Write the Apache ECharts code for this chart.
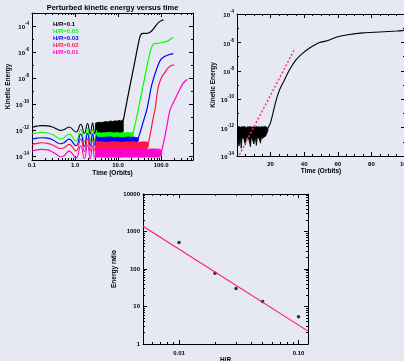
<!DOCTYPE html>
<html>
<head>
<meta charset="utf-8">
<script src="https://cdn.jsdelivr.net/npm/echarts/dist/echarts.min.js"></script>
<style>
  html, body { margin: 0; padding: 0; background: #e6e9f3; }
  #chart { width: 404px; height: 361px; }
</style>
</head>
<body>
<div id="chart"></div>
<script>
// ---------- Panel 1: perturbed kinetic energy versus time, five disc thicknesses ----------
const runLabels = ['H/R=0.1', 'H/R=0.05', 'H/R=0.03', 'H/R=0.02', 'H/R=0.01'];
const runColors = ['#000000', '#00ff00', '#0000ff', '#ff1446', '#ff00cc'];

// early epicyclic oscillation (orbits)
const oscTime = [0.10, 0.13, 0.17, 0.23, 0.30, 0.38, 0.45, 0.54, 0.63, 0.72, 1.05, 1.35, 1.65, 1.95, 2.25, 2.55, 2.85, 3.15];
const oscH10 = [1.6e-12, 2.0e-12, 2.2e-12, 2.1e-12, 1.7e-12, 1.2e-12, 9.5e-13, 1.05e-12, 1.4e-12, 1.7e-12, 7.1e-13, 2.8e-12, 5.6e-13, 3.2e-12, 5.0e-13, 3.5e-12, 5.6e-13, 3.5e-12];
const oscH05 = [5.0e-13, 6.0e-13, 6.6e-13, 6.0e-13, 4.5e-13, 2.8e-13, 2.1e-13, 2.4e-13, 3.8e-13, 5.0e-13, 1.4e-13, 1.1e-12, 1.26e-13, 1.26e-12, 1.4e-13, 1.1e-12, 1.6e-13, 1.0e-12];
const oscH03 = [2.0e-13, 2.4e-13, 2.6e-13, 2.4e-13, 1.8e-13, 1.1e-13, 8.9e-14, 1.0e-13, 1.5e-13, 2.0e-13, 6.3e-14, 5.0e-13, 5.6e-14, 5.6e-13, 6.3e-14, 5.0e-13, 7.1e-14, 4.0e-13];
const oscH02 = [7.9e-14, 9.5e-14, 1.05e-13, 9.5e-14, 7.1e-14, 4.8e-14, 3.8e-14, 4.2e-14, 6.0e-14, 7.9e-14, 2.5e-14, 2.0e-13, 2.2e-14, 2.2e-13, 2.5e-14, 2.0e-13, 2.8e-14, 1.6e-13];
const oscH01 = [2.5e-14, 3.0e-14, 3.3e-14, 3.0e-14, 2.1e-14, 1.26e-14, 8.9e-15, 1.0e-14, 1.66e-14, 2.4e-14, 7.1e-15, 6.3e-14, 6.3e-15, 7.1e-14, 6.3e-15, 6.3e-14, 7.1e-15, 5.0e-14];

// fast oscillation phase: upper and lower envelopes
const bandTimeH10 = [3.0, 3.6, 4.3, 5.0, 5.8, 6.6, 7.5, 8.5, 9.5, 10.5, 11.5, 12.5, 13.2];
const bandHiH10 = [3.5e-12, 4.0e-12, 3.8e-12, 4.5e-12, 4.2e-12, 5.0e-12, 4.5e-12, 5.2e-12, 4.8e-12, 5.6e-12, 5.0e-12, 6.0e-12, 5.5e-12];
const bandLoH10 = [5.6e-13, 6.3e-13, 5.0e-13, 6.6e-13, 4.5e-13, 6.3e-13, 5.2e-13, 7.1e-13, 4.8e-13, 6.6e-13, 5.6e-13, 7.1e-13, 7.9e-13];

const bandTimeH05 = [3.0, 4.0, 5.2, 6.5, 8.0, 9.5, 11, 13, 15, 17, 19, 21, 22.6];
const bandHiH05 = [6.6e-13, 6.0e-13, 6.3e-13, 6.8e-13, 6.0e-13, 6.5e-13, 5.9e-13, 6.6e-13, 6.2e-13, 6.8e-13, 6.0e-13, 6.6e-13, 7.1e-13];
const bandLoH05 = [2.2e-13, 2.4e-13, 2.1e-13, 2.3e-13, 2.2e-13, 2.0e-13, 2.3e-13, 2.2e-13, 2.4e-13, 2.1e-13, 2.3e-13, 2.2e-13, 4.0e-13];

const bandTimeH03 = [3.0, 4.0, 5.2, 6.5, 8.0, 10, 12, 14.5, 17, 20, 23, 26.5, 29.8];
const bandHiH03 = [2.9e-13, 2.7e-13, 2.8e-13, 3.0e-13, 2.7e-13, 2.9e-13, 2.6e-13, 2.8e-13, 3.0e-13, 2.7e-13, 2.9e-13, 2.7e-13, 2.6e-13];
const bandLoH03 = [1.0e-13, 9.5e-14, 1.05e-13, 9.8e-14, 1.0e-13, 9.3e-14, 1.0e-13, 9.6e-14, 1.02e-13, 9.4e-14, 1.0e-13, 9.7e-14, 1.6e-13];

const bandTimeH02 = [3.0, 4.0, 5.2, 6.5, 8.0, 10, 12.5, 15, 18, 22, 27, 33, 40, 46, 50.8];
const bandHiH02 = [1.2e-13, 1.25e-13, 1.15e-13, 1.2e-13, 1.3e-13, 1.2e-13, 1.15e-13, 1.25e-13, 1.2e-13, 1.3e-13, 1.15e-13, 1.2e-13, 1.25e-13, 1.2e-13, 1.1e-13];
const bandLoH02 = [3.3e-14, 3.1e-14, 3.4e-14, 3.2e-14, 3.3e-14, 3.0e-14, 3.4e-14, 3.2e-14, 3.3e-14, 3.1e-14, 3.4e-14, 3.2e-14, 3.3e-14, 3.1e-14, 6.0e-14];

const bandTimeH01 = [3.0, 4.0, 5.2, 6.5, 8.0, 10, 12.5, 15, 18, 22, 27, 33, 40, 48, 57, 67, 78, 90, 103];
const bandHiH01 = [3.5e-14, 3.4e-14, 3.6e-14, 3.5e-14, 3.3e-14, 3.6e-14, 3.5e-14, 3.4e-14, 3.6e-14, 3.5e-14, 3.3e-14, 3.5e-14, 3.6e-14, 3.4e-14, 3.5e-14, 3.6e-14, 3.4e-14, 3.5e-14, 2.6e-14];
const bandLoH01 = [8.3e-15, 8.5e-15, 8.1e-15, 8.3e-15, 8.4e-15, 8.2e-15, 8.3e-15, 8.5e-15, 8.1e-15, 8.3e-15, 8.4e-15, 8.2e-15, 8.3e-15, 8.5e-15, 8.1e-15, 8.3e-15, 8.4e-15, 8.2e-15, 1.2e-14];

// instability growth and saturation
const growTimeH10 = [13.2, 16.2, 20, 24.8, 29, 33, 37.6, 47, 55, 65, 76, 89, 105, 113];
const growH10 = [5.5e-12, 1.9e-10, 6.6e-9, 2.3e-7, 3.3e-6, 1.9e-5, 2.75e-5, 2.75e-5, 3.3e-5, 5.6e-5, 1.12e-4, 2.0e-4, 2.75e-4, 3.0e-4];
const growTimeH05 = [22.6, 27.6, 34.3, 42.5, 50, 58.6, 68.6, 85, 110, 145, 170, 193];
const growH05 = [7.1e-13, 1.35e-11, 4.7e-10, 1.6e-8, 2.3e-7, 1.9e-6, 4.3e-6, 4.7e-6, 5.6e-6, 7.2e-6, 1.05e-5, 1.35e-5];
const growTimeH03 = [29.8, 34.4, 40.4, 46.5, 53, 60.1, 78.9, 98, 123, 160, 192];
const growH03 = [2.6e-13, 1.26e-12, 7.6e-12, 3.7e-11, 3.16e-10, 2.75e-9, 5.2e-8, 2.6e-7, 4.7e-7, 6.6e-7, 7.6e-7];
const growTimeH02 = [50.8, 58, 65, 72, 85.6, 103, 124, 148, 178, 202];
const growH02 = [1.0e-13, 9.5e-13, 7.9e-12, 3.7e-11, 2.0e-9, 1.2e-8, 2.9e-8, 6.3e-8, 9.5e-8, 1.0e-7];
const growTimeH01 = [103, 117, 137, 162, 213, 253, 303, 363, 410];
const growH01 = [2.5e-14, 1.6e-13, 2.3e-12, 3.7e-11, 2.6e-10, 8.5e-10, 2.75e-9, 5.9e-9, 7.6e-9];

// ---------- Panel 2: single run on a linear time axis ----------
const trNoiseTime = [0.5, 1.2, 2.0, 2.5, 3.0, 4.0, 5.0, 5.5, 6.0, 7.0, 8.0, 8.5, 9.0, 10.0, 11.0, 11.5, 12.0, 13.0, 14.0, 14.5, 15.0, 16.0, 17.0, 18.4];
const trNoiseHi = [1.1e-12, 1.2e-12, 1.05e-12, 1.15e-12, 1.1e-12, 1.2e-12, 1.1e-12, 1.0e-12, 1.15e-12, 1.1e-12, 1.2e-12, 1.1e-12, 1.05e-12, 1.15e-12, 1.1e-12, 1.2e-12, 1.1e-12, 1.15e-12, 1.05e-12, 1.2e-12, 1.1e-12, 1.15e-12, 1.2e-12, 9.0e-13];
const trNoiseLo = [2.0e-13, 5.0e-14, 1.8e-13, 3.5e-14, 1.9e-13, 1.7e-13, 6.0e-14, 1.8e-13, 2.0e-13, 1.6e-13, 4.5e-14, 1.9e-13, 1.8e-13, 7.0e-14, 2.0e-13, 5.5e-14, 1.8e-13, 1.9e-13, 8.0e-14, 2.0e-13, 1.7e-13, 2.1e-13, 2.5e-13, 6.0e-13];
const trGrowTime = [18.4, 19.8, 21.4, 23.3, 25.3, 28.2, 31.2, 35.1, 39, 43.9, 48.8, 53.7, 60, 66, 75, 85, 95, 100];
const trGrowE = [8.9e-13, 2.0e-12, 1.02e-11, 8.7e-11, 4.5e-10, 2.2e-9, 1.15e-8, 5.8e-8, 1.7e-7, 4.5e-7, 9.5e-7, 1.3e-6, 2.5e-6, 3.5e-6, 4.7e-6, 5.4e-6, 6.3e-6, 7.1e-6];
const trRateTime = [1.4, 34];
const trRateE = [1.2e-14, 2.9e-7];

// ---------- Panel 3: energy ratio against H/R ----------
const hrValues = [0.01, 0.02, 0.03, 0.05, 0.10];
const energyRatio = [510, 77, 30, 13.6, 5.3];
const fitHR = [0.005, 0.12];
const fitRatio = [1380, 2.2];

// ---------- helpers ----------
const FONT = '"Liberation Sans", Arial, sans-serif';
const pairs = (xs, ys) => xs.map((x, i) => [x, ys[i]]);
const decades = (lo, hi, step) => { const out = []; for (let e = lo; e <= hi; e += step) out.push(Math.pow(10, e)); return out; };
const logMinor = (lo, hi) => { const out = []; for (let e = lo; e <= hi; e++) for (let m = 2; m <= 9; m++) out.push(m * Math.pow(10, e)); return out; };
const powLabel = v => '{b|10}{e|' + Math.round(Math.log10(v)) + '}';
const supRich = {
  b: { fontSize: 6, fontWeight: 'bold', fontFamily: FONT, color: '#000', padding: [3, 0, 0, 0] },
  e: { fontSize: 4.5, fontWeight: 'bold', fontFamily: FONT, color: '#000', verticalAlign: 'top' }
};
const nameStyle = { fontSize: 6.5, fontWeight: 'bold', fontFamily: FONT, color: '#000' };

// four axes per side pair: labelled main, its minor ticks, mirrored box side, its minor ticks
function makeAxes(dim, gridIndex, o) {
  const pos = dim === 'x' ? ['bottom', 'top'] : ['left', 'right'];
  const base = {
    gridIndex, type: o.type, min: o.min, max: o.max,
    splitLine: { show: false }, minorTick: { show: false }, minorSplitLine: { show: false },
    axisPointer: { show: false }, silent: true
  };
  const line = show => ({ show, onZero: false, lineStyle: { color: '#000', width: 1 } });
  const tick = (vals, len) => ({ show: true, inside: true, length: len, customValues: vals, lineStyle: { color: '#000', width: 1 } });
  const main = Object.assign({}, base, {
    position: pos[0], axisLine: line(true), axisTick: tick(o.major, 4),
    axisLabel: {
      show: true, customValues: o.labels, formatter: o.formatter, margin: o.labelMargin,
      fontFamily: FONT, fontWeight: 'bold', fontSize: 6, color: '#000', rich: o.rich
    },
    name: o.name, nameLocation: 'middle', nameGap: o.nameGap, nameTextStyle: nameStyle
  });
  const mainMinor = Object.assign({}, base, { position: pos[0], axisLine: line(false), axisTick: tick(o.minor, 2), axisLabel: { show: false } });
  const opp = Object.assign({}, base, { position: pos[1], axisLine: line(true), axisTick: tick(o.major, 4), axisLabel: { show: false } });
  const oppMinor = Object.assign({}, base, { position: pos[1], axisLine: line(false), axisTick: tick(o.minor, 2), axisLabel: { show: false } });
  return [main, mainMinor, opp, oppMinor];
}

function curve(ax, xs, ys, color, smooth, width) {
  return {
    type: 'line', xAxisIndex: ax, yAxisIndex: ax, data: pairs(xs, ys),
    symbol: 'none', showSymbol: false, smooth, silent: true,
    lineStyle: { color, width }, itemStyle: { color }
  };
}

// filled envelope of a rapidly oscillating signal
function band(ax, xs, hi, lo, color) {
  return {
    type: 'custom', xAxisIndex: ax, yAxisIndex: ax, silent: true,
    data: [[xs[0], hi[0]]],
    renderItem: (params, api) => {
      const pts = [];
      for (let i = 0; i < xs.length; i++) pts.push(api.coord([xs[i], hi[i]]));
      for (let i = xs.length - 1; i >= 0; i--) pts.push(api.coord([xs[i], lo[i]]));
      return { type: 'polygon', shape: { points: pts }, style: { fill: color, stroke: color, lineWidth: 0.8 } };
    }
  };
}

const xAxes = [].concat(
  makeAxes('x', 0, {
    type: 'log', min: 0.0998, max: 550, major: decades(-1, 2, 1), minor: logMinor(-1, 2),
    labels: decades(-1, 2, 1), formatter: v => v.toFixed(1), labelMargin: 2,
    name: 'Time (Orbits)', nameGap: 10
  }),
  makeAxes('x', 1, {
    type: 'value', min: 0, max: 100, major: [0, 20, 40, 60, 80, 100],
    minor: [5, 10, 15, 25, 30, 35, 45, 50, 55, 65, 70, 75, 85, 90, 95],
    labels: [20, 40, 60, 80, 100], formatter: v => String(v), labelMargin: 5,
    name: 'Time (Orbits)', nameGap: 10
  }),
  makeAxes('x', 2, {
    type: 'log', min: 0.005, max: 0.12, major: [0.01, 0.1], minor: logMinor(-3, -1),
    labels: [0.01, 0.1], formatter: v => v.toFixed(2), labelMargin: 6,
    name: 'H/R', nameGap: 8
  })
);

const yAxes = [].concat(
  makeAxes('y', 0, {
    type: 'log', min: 5e-15, max: 1e-3, major: decades(-14, -4, 2), minor: decades(-13, -3, 2),
    labels: decades(-14, -4, 2), formatter: powLabel, rich: supRich, labelMargin: 3,
    name: 'Kinetic Energy', nameGap: 19
  }),
  makeAxes('y', 1, {
    type: 'log', min: 9.98e-15, max: 1.002e-4, major: decades(-14, -4, 2), minor: decades(-13, -5, 2),
    labels: decades(-14, -4, 2), formatter: powLabel, rich: supRich, labelMargin: 3,
    name: 'Kinetic Energy', nameGap: 19
  }),
  makeAxes('y', 2, {
    type: 'log', min: 0.998, max: 10020, major: decades(0, 4, 1), minor: logMinor(0, 3),
    labels: decades(0, 4, 1), formatter: v => String(Math.round(v)), labelMargin: 3,
    name: 'Energy ratio', nameGap: 25
  })
);

const oscSets = [oscH10, oscH05, oscH03, oscH02, oscH01];
const bandSets = [
  [bandTimeH10, bandHiH10, bandLoH10], [bandTimeH05, bandHiH05, bandLoH05], [bandTimeH03, bandHiH03, bandLoH03],
  [bandTimeH02, bandHiH02, bandLoH02], [bandTimeH01, bandHiH01, bandLoH01]
];
const growSets = [[growTimeH10, growH10], [growTimeH05, growH05], [growTimeH03, growH03], [growTimeH02, growH02], [growTimeH01, growH01]];

const series = [];
runColors.forEach((c, i) => {
  series.push(curve(0, oscTime, oscSets[i], c, 0.5, 1.1));
  series.push(band(0, bandSets[i][0], bandSets[i][1], bandSets[i][2], c));
  series.push(curve(0, growSets[i][0], growSets[i][1], c, 0.3, 1.2));
});

series.push(band(4, trNoiseTime, trNoiseHi, trNoiseLo, '#000'));
series.push(curve(4, trGrowTime, trGrowE, '#000', 0.3, 1.1));
series.push({
  type: 'line', xAxisIndex: 4, yAxisIndex: 4, data: pairs(trRateTime, trRateE),
  symbol: 'none', silent: true, lineStyle: { color: '#ff2a6a', width: 1.4, type: [2, 2] }
});

series.push({
  type: 'line', xAxisIndex: 8, yAxisIndex: 8, data: pairs(fitHR, fitRatio),
  symbol: 'none', silent: true, lineStyle: { color: '#ff1a50', width: 1.1 }
});
series.push({
  type: 'scatter', xAxisIndex: 8, yAxisIndex: 8, data: pairs(hrValues, energyRatio),
  symbol: 'circle', symbolSize: 3.5, silent: true, itemStyle: { color: '#000' }
});

const txt = (x, y, text, color, size, align) => ({
  type: 'text', x, y, silent: true,
  style: { text, fill: color, fontSize: size, fontWeight: 'bold', fontFamily: FONT, align: align || 'left', verticalAlign: 'middle' }
});

const chart = echarts.init(document.getElementById('chart'), null, { renderer: 'canvas' });
chart.setOption({
  backgroundColor: '#e6e9f3',
  animation: false,
  grid: [
    { left: 32, top: 13, width: 161, height: 147, containLabel: false, outerBoundsMode: 'none' },
    { left: 237, top: 14, width: 168, height: 142, containLabel: false, outerBoundsMode: 'none' },
    { left: 143, top: 194, width: 165, height: 150, containLabel: false, outerBoundsMode: 'none' }
  ],
  xAxis: xAxes,
  yAxis: yAxes,
  series,
  graphic: [
    txt(112.5, 7.5, 'Perturbed kinetic energy versus time', '#000', 7.5, 'center')
  ].concat(runLabels.map((s, i) => txt(53, 24.5 + i * 6.9, s, runColors[i], 6)))
});
</script>
</body>
</html>
